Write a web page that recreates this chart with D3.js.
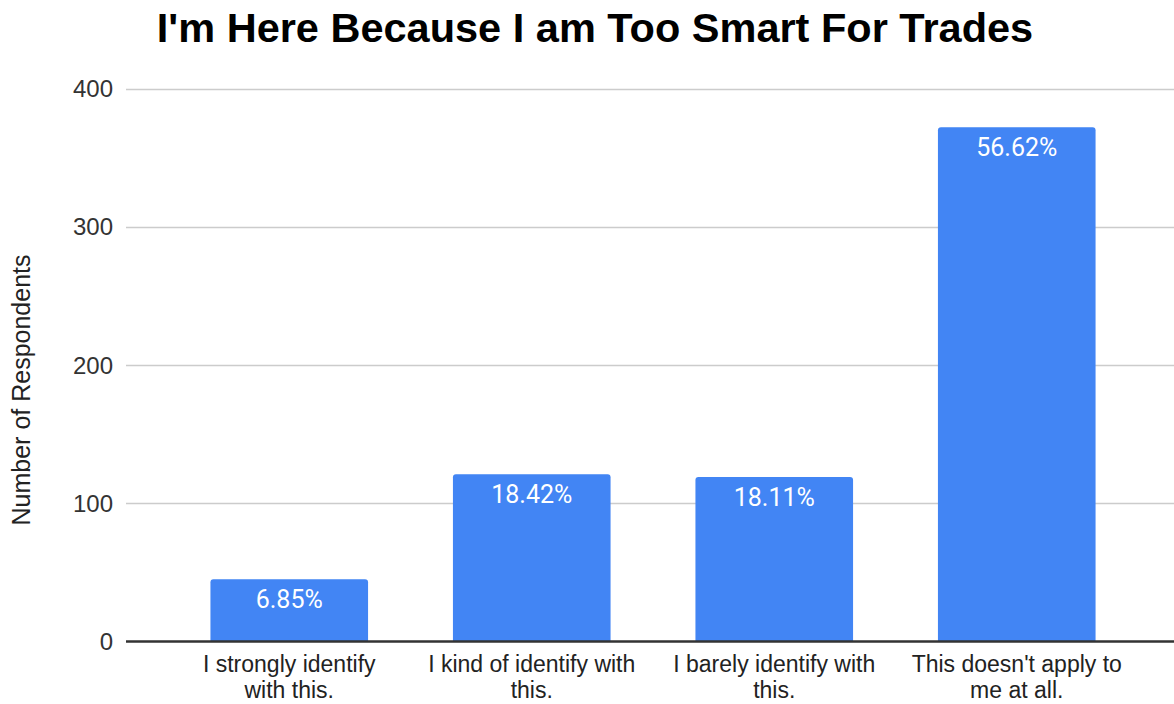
<!DOCTYPE html>
<html>
<head>
<meta charset="utf-8">
<script src="https://cdn.jsdelivr.net/npm/d3@7"></script>
<style>
  html, body { margin: 0; padding: 0; background: #fff; }
  svg { display: block; }
</style>
</head>
<body>
<svg id="chart" width="1174" height="704"></svg>
<script>
const categories = [
  ["I strongly identify", "with this."],
  ["I kind of identify with", "this."],
  ["I barely identify with", "this."],
  ["This doesn't apply to", "me at all."]
];
const values = [45, 121, 119, 372];
const percentLabels = ["6.85%", "18.42%", "18.11%", "56.62%"];
const yTicks = [0, 100, 200, 300, 400];
const title = "I'm Here Because I am Too Smart For Trades";
const yTitle = "Number of Respondents";

const svg = d3.select("#chart");
const gridLeft = 126, gridRight = 1174;

const x = d3.scaleBand()
  .domain(d3.range(values.length))
  .range([168, 1138])
  .paddingInner(0.35)
  .paddingOuter(0.175);

const y = d3.scaleLinear().domain([0, 400]).range([641.5, 88.5]);

// Title
svg.append("text")
  .attr("x", 595).attr("y", 42)
  .attr("text-anchor", "middle")
  .attr("font-family", "Arial, 'Liberation Sans', sans-serif")
  .attr("font-weight", "bold")
  .attr("font-size", 41.5)
  .attr("fill", "#000")
  .text(title);

// Gridlines
svg.append("g").selectAll("line")
  .data(yTicks.filter(d => d !== 0))
  .join("line")
  .attr("x1", gridLeft).attr("x2", gridRight)
  .attr("y1", d => Math.round(y(d)) + 0.5).attr("y2", d => Math.round(y(d)) + 0.5)
  .attr("stroke", "#cccccc").attr("stroke-width", 1.5);

// Y tick labels
svg.append("g").selectAll("text")
  .data(yTicks)
  .join("text")
  .attr("x", 113).attr("y", d => y(d))
  .attr("dy", "0.36em")
  .attr("text-anchor", "end")
  .attr("font-family", "Arial, 'Liberation Sans', sans-serif")
  .attr("font-size", 24)
  .attr("fill", "#333")
  .text(d => d);

// Y title
svg.append("text")
  .attr("transform", "translate(30,390) rotate(-90)")
  .attr("text-anchor", "middle")
  .attr("font-family", "Arial, 'Liberation Sans', sans-serif")
  .attr("font-size", 25)
  .attr("fill", "#222")
  .text(yTitle);

// Bars with rounded top corners
const r = 3;
svg.append("g").selectAll("path")
  .data(values)
  .join("path")
  .attr("d", (d, i) => {
    const x0 = x(i), x1 = x(i) + x.bandwidth();
    const top = y(d), bot = y(0);
    return `M${x0},${bot} L${x0},${top + r} Q${x0},${top} ${x0 + r},${top} L${x1 - r},${top} Q${x1},${top} ${x1},${top + r} L${x1},${bot} Z`;
  })
  .attr("fill", "#4285f4");

// Bar value labels
svg.append("g").selectAll("text")
  .data(values)
  .join("text")
  .attr("x", (d, i) => x(i) + x.bandwidth() / 2)
  .attr("y", d => y(d) + 29)
  .attr("text-anchor", "middle")
  .attr("font-family", "Roboto, Arial, sans-serif")
  .attr("font-size", 25)
  .attr("fill", "#ffffff")
  .text((d, i) => percentLabels[i]);

// Baseline
svg.append("line")
  .attr("x1", gridLeft).attr("x2", gridRight)
  .attr("y1", y(0)).attr("y2", y(0))
  .attr("stroke", "#333").attr("stroke-width", 2.5);

// Category labels
const cat = svg.append("g").selectAll("text")
  .data(categories)
  .join("text")
  .attr("text-anchor", "middle")
  .attr("font-family", "Arial, 'Liberation Sans', sans-serif")
  .attr("font-size", 23)
  .attr("fill", "#222");
cat.selectAll("tspan")
  .data((d, i) => d.map(t => ({t, i})))
  .join("tspan")
  .attr("x", d => x(d.i) + x.bandwidth() / 2)
  .attr("y", (d, j) => 671.5 + j * 26)
  .text(d => d.t);
</script>
</body>
</html>
